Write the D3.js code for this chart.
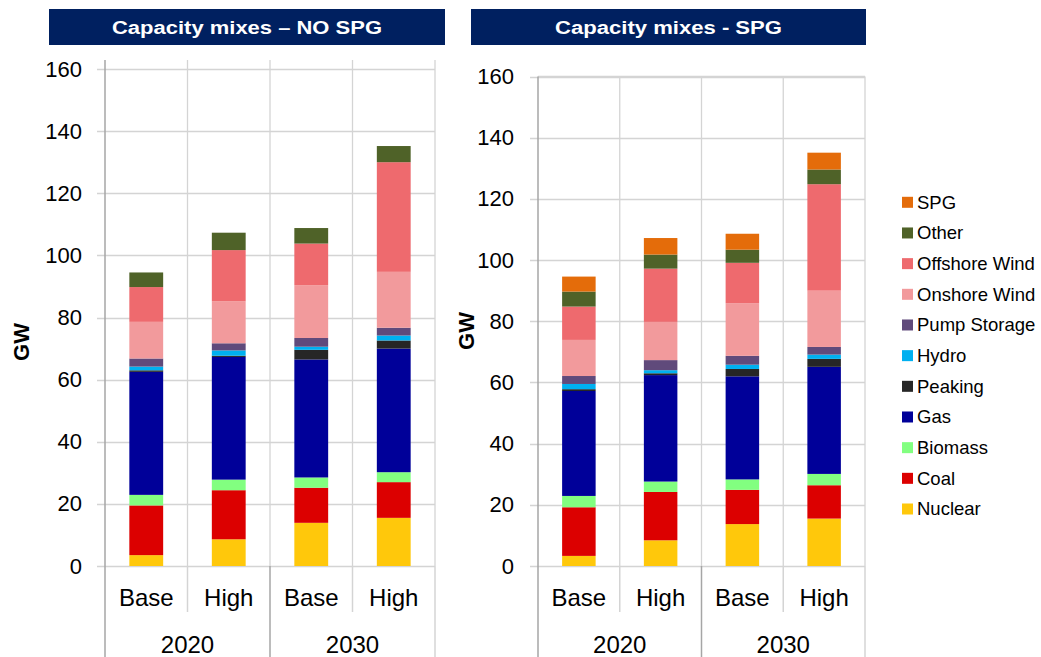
<!DOCTYPE html>
<html>
<head>
<meta charset="utf-8">
<script src="https://cdn.jsdelivr.net/npm/d3@7"></script>
<style>
  html, body { margin: 0; padding: 0; background: #fff; }
  svg { display: block; font-family: "Liberation Sans", Arial, sans-serif; }
</style>
</head>
<body>
<svg id="chart" width="1041" height="657"></svg>
<script>
// Generation technologies, bottom of the stack first
const series = ["Nuclear", "Coal", "Biomass", "Gas", "Peaking", "Hydro",
  "Pump Storage", "Onshore Wind", "Offshore Wind", "Other", "SPG"];
const colors = ["#FFC80B", "#DC0000", "#82FF80", "#000099", "#262626", "#00B0F0",
  "#604A7B", "#F29A9C", "#EE6A6E", "#4F6228", "#E46C0A"];

const scenarios = ["Base", "High", "Base", "High"];
const years = ["2020", "2030"];
const yTicks = [0, 20, 40, 60, 80, 100, 120, 140, 160];

// Installed capacity (GW) without SPG, per bar: 2020 Base, 2020 High, 2030 Base, 2030 High
const noSpgNuclear  = [3.5, 8.6, 13.9, 15.5];
const noSpgCoal     = [16.0, 15.8, 11.3, 11.5];
const noSpgBiomass  = [3.4, 3.4, 3.3, 3.2];
const noSpgGas      = [39.6, 39.5, 38.0, 39.8];
const noSpgPeaking  = [0.5, 0.4, 3.1, 2.6];
const noSpgHydro    = [1.2, 1.7, 1.0, 1.6];
const noSpgPump     = [2.6, 2.3, 2.8, 2.5];
const noSpgOnshore  = [11.8, 13.5, 17.0, 18.0];
const noSpgOffshore = [11.2, 16.5, 13.4, 35.3];
const noSpgOther    = [4.7, 5.6, 5.0, 5.2];
const noSpgSpg      = [0, 0, 0, 0];

// Installed capacity (GW) with SPG
const spgNuclear  = [3.3, 8.4, 13.7, 15.5];
const spgCoal     = [15.9, 15.8, 11.2, 10.9];
const spgBiomass  = [3.7, 3.4, 3.4, 3.7];
const spgGas      = [34.3, 34.8, 33.7, 35.0];
const spgPeaking  = [0.6, 0.6, 2.4, 2.6];
const spgHydro    = [1.7, 1.0, 1.4, 1.4];
const spgPump     = [2.6, 3.3, 2.9, 2.5];
const spgOnshore  = [11.8, 12.5, 17.2, 18.4];
const spgOffshore = [10.9, 17.4, 13.2, 34.8];
const spgOther    = [4.9, 4.6, 4.3, 4.8];
const spgSpg      = [4.9, 5.4, 5.2, 5.5];

const noSpgValues = [noSpgNuclear, noSpgCoal, noSpgBiomass, noSpgGas, noSpgPeaking, noSpgHydro,
  noSpgPump, noSpgOnshore, noSpgOffshore, noSpgOther, noSpgSpg];
const spgValues = [spgNuclear, spgCoal, spgBiomass, spgGas, spgPeaking, spgHydro,
  spgPump, spgOnshore, spgOffshore, spgOther, spgSpg];

const svg = d3.select("#chart");
const GRID = "#d4d4d4";
const AXIS = "#a6a6a6";

function toRows(values) {
  return scenarios.map((s, i) => {
    const row = { idx: i };
    series.forEach((k, j) => { row[k] = values[j][i]; });
    return row;
  });
}

function drawPanel(cfg) {
  const g = svg.append("g");

  // Title banner
  g.append("rect")
    .attr("x", cfg.titleX0).attr("y", 9)
    .attr("width", cfg.titleX1 - cfg.titleX0).attr("height", 36)
    .attr("fill", "#002060");
  g.append("text")
    .attr("x", (cfg.titleX0 + cfg.titleX1) / 2).attr("y", 33.5)
    .attr("text-anchor", "middle")
    .attr("fill", "#fff").attr("font-weight", "bold").attr("font-size", 18)
    .attr("textLength", cfg.titleLen).attr("lengthAdjust", "spacingAndGlyphs")
    .text(cfg.title);

  const slot = d3.scaleBand().domain(d3.range(scenarios.length))
    .range([cfg.x0, cfg.x1]).padding(0);
  const y = d3.scaleLinear().domain([0, 160]).range([cfg.yBottom, cfg.yTop]);
  const barFrac = 0.41;
  const barW = slot.bandwidth() * barFrac;

  // Horizontal gridlines (with short tick stubs to the left of the axis)
  g.append("g").selectAll("line").data(yTicks).join("line")
    .attr("x1", cfg.x0 - 8).attr("x2", cfg.x1)
    .attr("y1", d => Math.round(y(d)) + 0.5).attr("y2", d => Math.round(y(d)) + 0.5)
    .attr("stroke", GRID).attr("stroke-width", 1.3);

  // Vertical gridlines between slots
  g.append("g").selectAll("line").data(d3.range(1, scenarios.length + 1)).join("line")
    .attr("x1", i => i === scenarios.length ? cfg.x1 : slot(i))
    .attr("x2", i => i === scenarios.length ? cfg.x1 : slot(i))
    .attr("y1", cfg.gridTop).attr("y2", cfg.yBottom)
    .attr("stroke", GRID).attr("stroke-width", 1.3);

  if (cfg.topBorder) {
    g.append("line")
      .attr("x1", cfg.x0).attr("x2", cfg.x1)
      .attr("y1", cfg.yTop).attr("y2", cfg.yTop)
      .attr("stroke", GRID).attr("stroke-width", 1.3);
  }

  // Stacked bars
  const stack = d3.stack().keys(series)(toRows(cfg.values));
  g.append("g").selectAll("g").data(stack).join("g")
    .attr("fill", (d, i) => colors[i])
    .selectAll("rect").data(d => d).join("rect")
    .attr("x", d => slot(d.data.idx) + (slot.bandwidth() - barW) / 2)
    .attr("width", barW)
    .attr("y", d => y(d[1]))
    .attr("height", d => Math.max(0, y(d[0]) - y(d[1])));

  // Y axis
  const yAxis = d3.axisLeft(y).tickValues(yTicks).tickSize(0).tickPadding(cfg.tickPad);
  const ax = g.append("g").attr("transform", `translate(${cfg.x0},0)`).call(yAxis);
  ax.select(".domain").remove();
  ax.selectAll("text")
    .attr("font-size", 22).attr("fill", "#000")
    .attr("font-family", "Liberation Sans, Arial, sans-serif");
  g.append("line")
    .attr("x1", cfg.x0).attr("x2", cfg.x0)
    .attr("y1", cfg.gridTop).attr("y2", 657)
    .attr("stroke", AXIS).attr("stroke-width", 1.5);

  // Axis title
  g.append("text")
    .attr("transform", `translate(${cfg.gwX},${cfg.gwY}) rotate(-90)`)
    .attr("text-anchor", "middle")
    .attr("font-weight", "bold").attr("font-size", 22)
    .text("GW");

  // Category separators: short between scenarios, long between years
  g.append("g").selectAll("line").data(d3.range(1, scenarios.length)).join("line")
    .attr("x1", i => slot(i)).attr("x2", i => slot(i))
    .attr("y1", cfg.yBottom).attr("y2", i => i % 2 === 0 ? 657 : 612)
    .attr("stroke", i => i % 2 === 0 ? AXIS : GRID).attr("stroke-width", 1.5);
  g.append("line")
    .attr("x1", cfg.x1).attr("x2", cfg.x1)
    .attr("y1", cfg.yBottom).attr("y2", 657)
    .attr("stroke", GRID).attr("stroke-width", 1.5);

  // Scenario and year labels
  g.append("g").selectAll("text").data(scenarios).join("text")
    .attr("x", (d, i) => slot(i) + slot.bandwidth() / 2)
    .attr("y", 605.5)
    .attr("text-anchor", "middle").attr("font-size", 24)
    .text(d => d);
  g.append("g").selectAll("text").data(years).join("text")
    .attr("x", (d, i) => slot(i * 2 + 1))
    .attr("y", 652.5)
    .attr("text-anchor", "middle").attr("font-size", 24)
    .text(d => d);
}

drawPanel({
  title: "Capacity mixes \u2013 NO SPG", titleX0: 49, titleX1: 445, titleLen: 270,
  x0: 105, x1: 435, yTop: 69, yBottom: 566, gridTop: 60, topBorder: false,
  tickPad: 23, gwX: 29, gwY: 342, values: noSpgValues
});

drawPanel({
  title: "Capacity mixes - SPG", titleX0: 471, titleX1: 866, titleLen: 227,
  x0: 538, x1: 865, yTop: 76.5, yBottom: 566, gridTop: 76.5, topBorder: true,
  tickPad: 24, gwX: 474, gwY: 331, values: spgValues
});

// Legend, top entry is the top of the stack
const legendItems = series.map((s, i) => ({ name: s, color: colors[i] })).reverse();
const legend = svg.append("g").selectAll("g").data(legendItems).join("g")
  .attr("transform", (d, i) => `translate(902,${202.3 + i * 30.67})`);
legend.append("rect")
  .attr("x", 0).attr("y", -5.5).attr("width", 11).attr("height", 11)
  .attr("fill", d => d.color);
legend.append("text")
  .attr("x", 15).attr("y", 0).attr("dy", "0.35em")
  .attr("font-size", 18.5)
  .text(d => d.name);
</script>
</body>
</html>
